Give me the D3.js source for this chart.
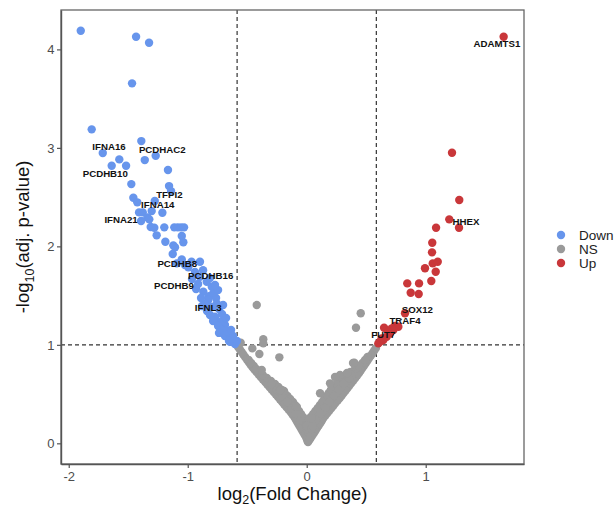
<!DOCTYPE html>
<html>
<head>
<meta charset="utf-8">
<script src="https://cdn.jsdelivr.net/npm/d3@7"></script>
<style>
  body { margin: 0; background: #fff; }
  svg { display: block; font-family: "Liberation Sans", Arial, sans-serif; }
</style>
</head>
<body>
<div class="canvas"></div>
<script>
// groups shown in the legend
const groups = ['Down', 'NS', 'Up'];

// [log2FC, -log10(padj)] per group
const downPoints = [
  [-1.899, 4.189], [-1.434, 4.128], [-1.325, 4.067], [-1.468, 3.655], [-1.807, 3.188],
  [-1.390, 3.069], [-1.714, 2.947], [-1.269, 2.920], [-1.575, 2.883], [-1.361, 2.876],
  [-1.639, 2.818], [-1.518, 2.818], [-1.166, 2.775], [-1.474, 2.632], [-1.157, 2.612],
  [-1.140, 2.561], [-1.457, 2.493], [-1.424, 2.447], [-1.277, 2.460], [-1.409, 2.345],
  [-1.378, 2.345], [-1.303, 2.358], [-1.213, 2.341], [-1.339, 2.294], [-1.392, 2.257],
  [-1.323, 2.274], [-1.311, 2.196], [-1.281, 2.189], [-1.197, 2.193], [-1.113, 2.193],
  [-1.084, 2.193], [-1.056, 2.193], [-1.031, 2.193], [-1.261, 2.112], [-1.050, 2.105],
  [-1.188, 2.047], [-1.037, 2.041], [-1.121, 2.010], [-1.107, 1.990], [-1.126, 1.922],
  [-1.050, 1.868], [-0.897, 1.844], [-1.092, 1.827], [-1.023, 1.810], [-0.968, 1.844],
  [-0.995, 1.787], [-0.939, 1.739], [-0.897, 1.691], [-0.964, 1.668], [-0.840, 1.641],
  [-0.913, 1.617], [-0.798, 1.590], [-0.869, 1.539], [-0.785, 1.523], [-0.930, 1.567],
  [-0.821, 1.495], [-0.762, 1.475], [-0.827, 1.455], [-0.756, 1.421], [-0.855, 1.414],
  [-0.796, 1.384], [-0.737, 1.363], [-0.838, 1.343], [-0.813, 1.303], [-0.771, 1.285],
  [-0.712, 1.313], [-0.729, 1.235], [-0.787, 1.242], [-0.687, 1.201], [-0.745, 1.191],
  [-0.714, 1.150], [-0.659, 1.117], [-0.687, 1.089], [-0.645, 1.066], [-0.617, 1.031],
  [-0.645, 1.031], [-0.603, 1.008], [-0.670, 1.140], [-0.636, 1.150],
  [-0.871, 1.758], [-0.813, 1.678], [-0.745, 1.556], [-0.888, 1.475], [-0.703, 1.404],
  [-0.678, 1.272], [-0.880, 1.394], [-0.737, 1.121], [-0.619, 1.089], [-0.586, 1.039],
  [-0.653, 1.039], [-0.771, 1.607]
];

const nsPoints = [
  // left arm
  [-0.577, 0.978], [-0.547, 0.927], [-0.518, 0.876], [-0.488, 0.825], [-0.457, 0.775],
  [-0.422, 0.724], [-0.386, 0.673], [-0.349, 0.622], [-0.313, 0.571], [-0.277, 0.521],
  [-0.241, 0.470], [-0.206, 0.419], [-0.171, 0.368], [-0.135, 0.318], [-0.104, 0.267],
  [-0.080, 0.216], [-0.055, 0.165], [-0.031, 0.115], [-0.006, 0.064], [0.007, 0.023],
  [-0.562, 0.953], [-0.533, 0.902], [-0.503, 0.851], [-0.473, 0.800], [-0.440, 0.750],
  [-0.404, 0.699], [-0.368, 0.648], [-0.331, 0.597], [-0.295, 0.546], [-0.259, 0.496],
  [-0.224, 0.445], [-0.189, 0.394], [-0.153, 0.343], [-0.120, 0.293], [-0.092, 0.242],
  [-0.068, 0.191], [-0.043, 0.140], [-0.019, 0.090], [0.001, 0.044],
  [-0.488, 0.846], [-0.445, 0.785], [-0.403, 0.724], [-0.335, 0.663], [-0.267, 0.602],
  [-0.209, 0.541], [-0.162, 0.480], [-0.116, 0.419], [-0.082, 0.358], [-0.048, 0.297],
  [-0.014, 0.236], [-0.001, 0.176], [0.013, 0.115],
  [-0.467, 0.816], [-0.424, 0.755], [-0.369, 0.694], [-0.301, 0.633], [-0.238, 0.572],
  [-0.186, 0.511], [-0.139, 0.450], [-0.099, 0.389], [-0.065, 0.328], [-0.031, 0.267],
  [-0.008, 0.206], [0.006, 0.146],
  [-0.297, 0.602], [-0.250, 0.541], [-0.205, 0.480], [-0.161, 0.419], [-0.124, 0.358],
  [-0.090, 0.297], [-0.050, 0.236],
  [-0.378, 0.744], [-0.191, 0.531], [-0.098, 0.379], [-0.031, 0.226], [-0.224, 0.541],
  [-0.084, 0.372], [0.028, 0.169],
  [-0.420, 1.404], [-0.365, 1.056], [-0.365, 1.015], [-0.457, 0.964], [-0.398, 0.907],
  [-0.230, 0.873], [-0.555, 1.021],
  // right arm
  [0.582, 0.967], [0.554, 0.917], [0.525, 0.866], [0.497, 0.815], [0.468, 0.764],
  [0.440, 0.714], [0.408, 0.663], [0.375, 0.612], [0.343, 0.561], [0.310, 0.511],
  [0.278, 0.460], [0.241, 0.409], [0.208, 0.358], [0.174, 0.307], [0.140, 0.257],
  [0.115, 0.206], [0.087, 0.155], [0.061, 0.105], [0.033, 0.054], [0.011, 0.013],
  [0.568, 0.942], [0.540, 0.892], [0.511, 0.841], [0.483, 0.790], [0.454, 0.739],
  [0.424, 0.689], [0.392, 0.638], [0.359, 0.587], [0.327, 0.536], [0.294, 0.486],
  [0.260, 0.435], [0.225, 0.384], [0.191, 0.333], [0.157, 0.282], [0.128, 0.232],
  [0.101, 0.181], [0.074, 0.130], [0.047, 0.080], [0.022, 0.034],
  [0.511, 0.876], [0.469, 0.815], [0.406, 0.754], [0.328, 0.693], [0.281, 0.632],
  [0.221, 0.571], [0.185, 0.511], [0.148, 0.450], [0.112, 0.389], [0.073, 0.328],
  [0.034, 0.267], [0.002, 0.206], [-0.002, 0.145],
  [0.490, 0.846], [0.438, 0.785], [0.367, 0.724], [0.305, 0.663], [0.251, 0.602],
  [0.203, 0.541], [0.167, 0.481], [0.130, 0.420], [0.093, 0.359], [0.054, 0.298],
  [0.018, 0.237], [0.000, 0.176],
  [0.377, 0.693], [0.334, 0.632], [0.285, 0.571], [0.248, 0.511], [0.210, 0.450],
  [0.173, 0.389], [0.134, 0.328], [0.094, 0.267], [0.059, 0.206], [0.040, 0.145],
  [0.356, 0.663], [0.310, 0.602], [0.267, 0.541], [0.229, 0.481], [0.192, 0.420],
  [0.154, 0.359], [0.114, 0.298], [0.077, 0.237], [0.050, 0.176],
  [0.454, 1.320], [0.414, 1.174], [0.400, 0.818], [0.280, 0.693], [0.238, 0.673],
  [0.339, 0.714], [0.389, 0.815], [0.196, 0.609], [0.112, 0.508], [0.042, 0.254]
];

const upPoints = [
  [1.655, 4.128], [1.221, 2.950], [1.282, 2.470], [1.198, 2.274], [1.280, 2.189],
  [1.087, 2.189], [1.055, 2.037], [1.053, 1.939], [1.059, 1.827], [1.101, 1.844],
  [1.084, 1.742], [0.994, 1.777], [1.047, 1.648], [0.845, 1.624], [0.944, 1.624],
  [0.874, 1.529], [0.941, 1.516], [0.826, 1.320], [0.650, 1.174], [0.742, 1.191],
  [0.770, 1.184], [0.728, 1.150], [0.700, 1.117], [0.672, 1.082], [0.644, 1.049],
  [0.616, 1.031], [0.602, 1.015], [0.630, 1.066], [0.714, 1.167], [0.686, 1.133]
];

// labelled genes
const labelGenes = ['ADAMTS1', 'HHEX', 'SOX12', 'TRAF4', 'FUT7', 'IFNA16', 'PCDHAC2', 'PCDHB10',
  'TFPI2', 'IFNA14', 'IFNA21', 'PCDHB8', 'PCDHB16', 'PCDHB9', 'IFNL3'];
const labelFC = [1.655, 1.280, 0.826, 0.770, 0.616, -1.714, -1.269, -1.639,
  -1.140, -1.277, -1.392, -1.126, -0.897, -0.964, -0.838];
const labelP = [4.128, 2.189, 1.320, 1.184, 1.031, 2.947, 2.920, 2.818,
  2.561, 2.460, 2.257, 1.922, 1.691, 1.668, 1.343];

// thresholds and ticks
const fcCut = 0.585;
const pCut = 1;
const xTicks = [-2, -1, 0, 1];
const yTicks = [0, 1, 2, 3, 4];

// repel-ish offsets of the labels (px)
const labelNudge = {
  ADAMTS1: [-6.7, 6.6], HHEX: [7, -6], SOX12: [12.3, -4], TRAF4: [6.7, -6], FUT7: [3.3, -6.7],
  IFNA16: [6.3, -6.3], PCDHAC2: [6.6, -5.7], PCDHB10: [-6.4, 7.6], TFPI2: [-1.7, 3],
  IFNA14: [3, 3.7], IFNA21: [-20, -1], PCDHB8: [4.6, 10], PCDHB16: [10.7, -1.4],
  PCDHB9: [-18, 7], IFNL3: [1.3, -3.3]
};

const colors = { Down: '#6795ec', NS: '#9a9a9a', Up: '#c9373a' };
const width = 615, height = 506;
const panel = { left: 61, right: 524, top: 10, bottom: 464 };

const svg = d3.select('.canvas').append('svg')
  .attr('width', width)
  .attr('height', height);

const x = d3.scaleLinear().domain([-2.065, 1.826]).range([panel.left, panel.right]);
const y = d3.scaleLinear().domain([-0.21, 4.40]).range([panel.bottom, panel.top]);

// threshold lines
const dash = svg.append('g')
  .attr('stroke', '#333')
  .attr('stroke-width', 1.2)
  .attr('stroke-dasharray', '4,3');
[-fcCut, fcCut].forEach((v) => {
  dash.append('line')
    .attr('x1', x(v)).attr('x2', x(v))
    .attr('y1', panel.top).attr('y2', panel.bottom);
});
dash.append('line')
  .attr('x1', panel.left).attr('x2', panel.right)
  .attr('y1', y(pCut)).attr('y2', y(pCut));

// points: NS first, then Down / Up on top
const pointGroups = [['NS', nsPoints], ['Down', downPoints], ['Up', upPoints]];
pointGroups.forEach(([name, pts]) => {
  svg.append('g')
    .selectAll('circle')
    .data(pts)
    .enter()
    .append('circle')
    .attr('cx', (d) => x(d[0]))
    .attr('cy', (d) => y(d[1]))
    .attr('r', 4.2)
    .attr('fill', colors[name]);
});

// gene labels
svg.append('g')
  .selectAll('text')
  .data(labelGenes)
  .enter()
  .append('text')
  .attr('x', (d, i) => x(labelFC[i]) + labelNudge[d][0])
  .attr('y', (d, i) => y(labelP[i]) + labelNudge[d][1])
  .attr('dy', '0.35em')
  .attr('text-anchor', 'middle')
  .attr('font-size', 9.7)
  .attr('font-weight', 'bold')
  .attr('fill', '#111')
  .text((d) => d);

// panel border
svg.append('rect')
  .attr('x', panel.left).attr('y', panel.top)
  .attr('width', panel.right - panel.left)
  .attr('height', panel.bottom - panel.top)
  .attr('fill', 'none')
  .attr('stroke', '#666')
  .attr('stroke-width', 1.3);

// axes (plain hyphen for negatives, like the original)
const fmt = (d) => String(d);
const xAxis = svg.append('g')
  .attr('transform', `translate(0, ${panel.bottom})`)
  .call(d3.axisBottom(x).tickValues(xTicks).tickSize(4).tickSizeOuter(0).tickFormat(fmt));
const yAxis = svg.append('g')
  .attr('transform', `translate(${panel.left}, 0)`)
  .call(d3.axisLeft(y).tickValues(yTicks).tickSize(4).tickSizeOuter(0).tickFormat(fmt));

[xAxis, yAxis].forEach((ax) => {
  ax.select('.domain').attr('stroke', '#555').attr('stroke-width', 1.4);
  ax.selectAll('.tick line').attr('stroke', '#555').attr('stroke-width', 1.2);
  ax.selectAll('.tick text')
    .attr('font-size', 13)
    .attr('font-family', '"Liberation Sans", Arial, sans-serif')
    .attr('fill', '#4d4d4d');
});
xAxis.selectAll('.tick text').attr('y', 8);
yAxis.selectAll('.tick text').attr('x', -6.5);

// axis titles
const xTitle = svg.append('text')
  .attr('x', (panel.left + panel.right) / 2)
  .attr('y', 500)
  .attr('text-anchor', 'middle')
  .attr('font-size', 18.5)
  .attr('fill', '#111');
xTitle.append('tspan').text('log');
xTitle.append('tspan').attr('font-size', 12.5).attr('dy', 4).text('2');
xTitle.append('tspan').attr('dy', -4).text('(Fold Change)');

const yTitle = svg.append('text')
  .attr('transform', `translate(29, ${(panel.top + panel.bottom) / 2}) rotate(-90)`)
  .attr('text-anchor', 'middle')
  .attr('font-size', 18.5)
  .attr('fill', '#111');
yTitle.append('tspan').text('-log');
yTitle.append('tspan').attr('font-size', 12.5).attr('dy', 5).text('10');
yTitle.append('tspan').attr('dy', -5).text('(adj. p-value)');

// legend
const legend = svg.append('g').attr('transform', 'translate(561, 235)');
groups.forEach((g, i) => {
  const row = legend.append('g').attr('transform', `translate(0, ${i * 14})`);
  row.append('circle').attr('r', 4.2).attr('fill', colors[g]);
  row.append('text')
    .attr('x', 18)
    .attr('dy', '0.36em')
    .attr('font-size', 13.5)
    .attr('fill', '#222')
    .text(g);
});
</script>
</body>
</html>
